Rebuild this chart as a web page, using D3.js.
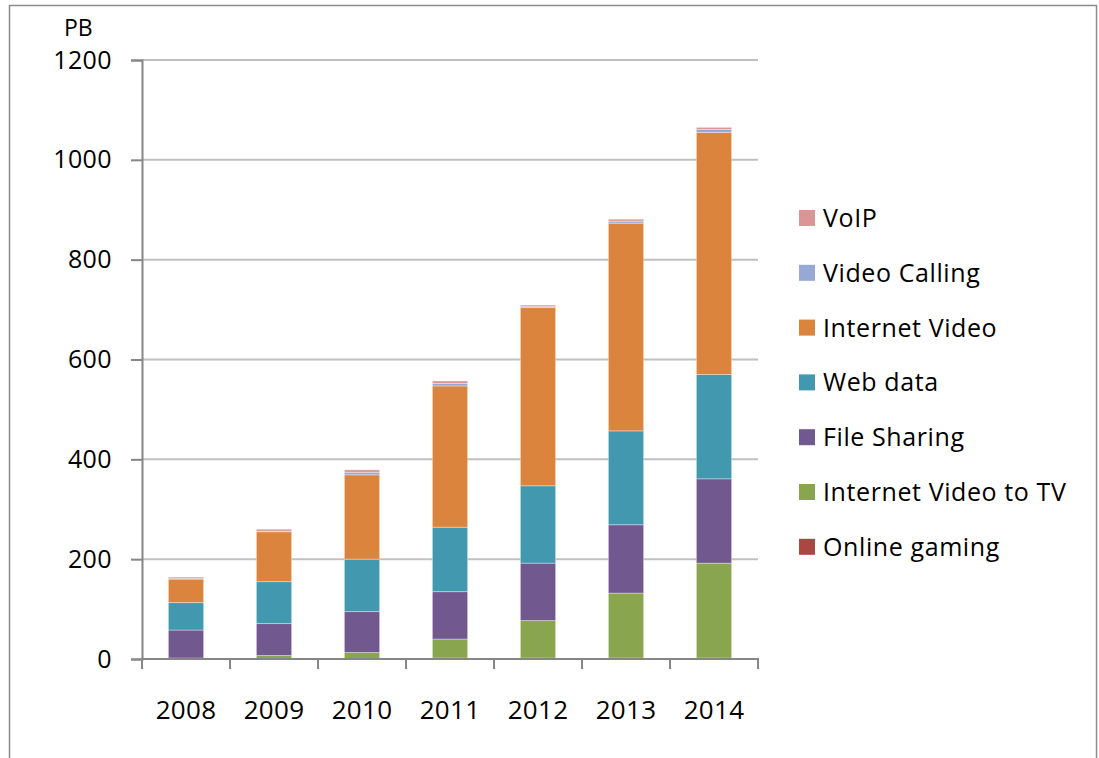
<!DOCTYPE html>
<html>
<head>
<meta charset="utf-8">
<script src="https://cdn.jsdelivr.net/npm/d3@7"></script>
<style>
  html, body { margin: 0; padding: 0; background: #fff; }
  svg { display: block; }
  text { font-family: "Open Sans", "Liberation Sans", sans-serif; fill: #000; }
</style>
</head>
<body>
<svg id="chart" width="1099" height="758"></svg>
<script>
// Traffic by application type, petabytes per month
const years = ["2008", "2009", "2010", "2011", "2012", "2013", "2014"];

// Stack order, bottom to top
const seriesNames = ["Online gaming", "Internet Video to TV", "File Sharing", "Web data", "Internet Video", "Video Calling", "VoIP"];
const onlineGaming     = [1, 1, 1, 2, 2, 2, 2];
const internetVideoTV  = [1, 6, 12, 38, 75, 130, 190];
const fileSharing      = [56, 64, 82, 95, 115, 137, 169];
const webData          = [55, 84, 105, 129, 155, 188, 209];
const internetVideo    = [47, 100, 169, 283, 357, 416, 485];
const videoCalling     = [1, 1, 5, 5, 2, 4, 6];
const voip             = [3, 4, 5, 5, 3, 4, 4];
const seriesValues = [onlineGaming, internetVideoTV, fileSharing, webData, internetVideo, videoCalling, voip];
const seriesColors = ["#AA4643", "#89A54E", "#71588F", "#4198AF", "#DB843D", "#95A9D4", "#D99694"];

const yTicks = [0, 200, 400, 600, 800, 1000, 1200];
const legendOrder = ["VoIP", "Video Calling", "Internet Video", "Web data", "File Sharing", "Internet Video to TV", "Online gaming"];

const svg = d3.select("#chart");

// outer chart frame
svg.append("rect")
  .attr("x", 9.5).attr("y", 5.5)
  .attr("width", 1087).attr("height", 800)
  .attr("fill", "none").attr("stroke", "#8c8c8c").attr("stroke-width", 1.5);

const plot = { left: 142, right: 758, top: 60, bottom: 659 };

const x = d3.scaleBand().domain(years).range([plot.left, plot.right]).padding(0);
const y = d3.scaleLinear().domain([0, 1200]).range([plot.bottom, plot.top]);

// horizontal gridlines
svg.append("g")
  .selectAll("line")
  .data(yTicks.filter(t => t > 0))
  .join("line")
  .attr("x1", plot.left).attr("x2", plot.right)
  .attr("y1", d => y(d)).attr("y2", d => y(d))
  .attr("stroke", "#c0c0c0").attr("stroke-width", 2);

// stacked bars
const table = years.map((yr, i) => {
  const row = { year: yr };
  seriesNames.forEach((s, k) => { row[s] = seriesValues[k][i]; });
  return row;
});
const stacked = d3.stack().keys(seriesNames)(table);
const color = d3.scaleOrdinal().domain(seriesNames).range(seriesColors);
const barW = x.bandwidth() * 0.4;

svg.append("g")
  .selectAll("g")
  .data(stacked)
  .join("g")
  .attr("fill", d => color(d.key))
  .selectAll("rect")
  .data(d => d)
  .join("rect")
  .attr("x", d => x(d.data.year) + (x.bandwidth() - barW) / 2)
  .attr("width", barW)
  .attr("y", d => y(d[1]))
  .attr("height", d => y(d[0]) - y(d[1]))
  .attr("stroke", "rgba(255,255,255,0.35)")
  .attr("stroke-width", 1);

// y axis
const yAxis = svg.append("g")
  .attr("transform", `translate(${plot.left},0)`)
  .call(d3.axisLeft(y).tickValues(yTicks).tickSize(11).tickPadding(19).tickFormat(d3.format("d")));
yAxis.select(".domain").attr("stroke", "#868686").attr("stroke-width", 2);
yAxis.selectAll(".tick line").attr("stroke", "#868686").attr("stroke-width", 2);
yAxis.selectAll(".tick text")
  .style("font-family", '"Open Sans", sans-serif')
  .style("font-size", "25px").style("letter-spacing", "0.4px").attr("fill", "#000");

// x axis with tick marks on the category boundaries
const xAxisG = svg.append("g").attr("transform", `translate(0,${plot.bottom})`);
xAxisG.append("line")
  .attr("x1", plot.left - 1).attr("x2", plot.right + 1)
  .attr("stroke", "#868686").attr("stroke-width", 2);
const boundaries = years.map(yr => x(yr)).concat([x(years[years.length - 1]) + x.bandwidth()]);
xAxisG.selectAll("line.tick")
  .data(boundaries)
  .join("line")
  .attr("class", "tick")
  .attr("x1", d => d).attr("x2", d => d)
  .attr("y1", 0).attr("y2", 10)
  .attr("stroke", "#868686").attr("stroke-width", 2);
xAxisG.selectAll("text")
  .data(years)
  .join("text")
  .attr("x", d => x(d) + x.bandwidth() / 2)
  .attr("y", 60)
  .attr("text-anchor", "middle")
  .style("font-size", "26px")
  .style("letter-spacing", "0.3px")
  .text(d => d);

// unit label
svg.append("text")
  .attr("x", 64).attr("y", 36)
  .style("font-size", "23px")
  .text("PB");

// legend
const legend = svg.append("g");
const legendItems = legend.selectAll("g")
  .data(legendOrder)
  .join("g")
  .attr("transform", (d, i) => `translate(799,${218 + i * 54.8})`);
legendItems.append("rect")
  .attr("x", 0).attr("y", -8)
  .attr("width", 16).attr("height", 16)
  .attr("fill", d => color(d));
legendItems.append("text")
  .attr("x", 24).attr("y", 0)
  .attr("dy", "0.36em")
  .style("font-size", "25px")
  .style("letter-spacing", "0.6px")
  .text(d => d);
</script>
</body>
</html>
